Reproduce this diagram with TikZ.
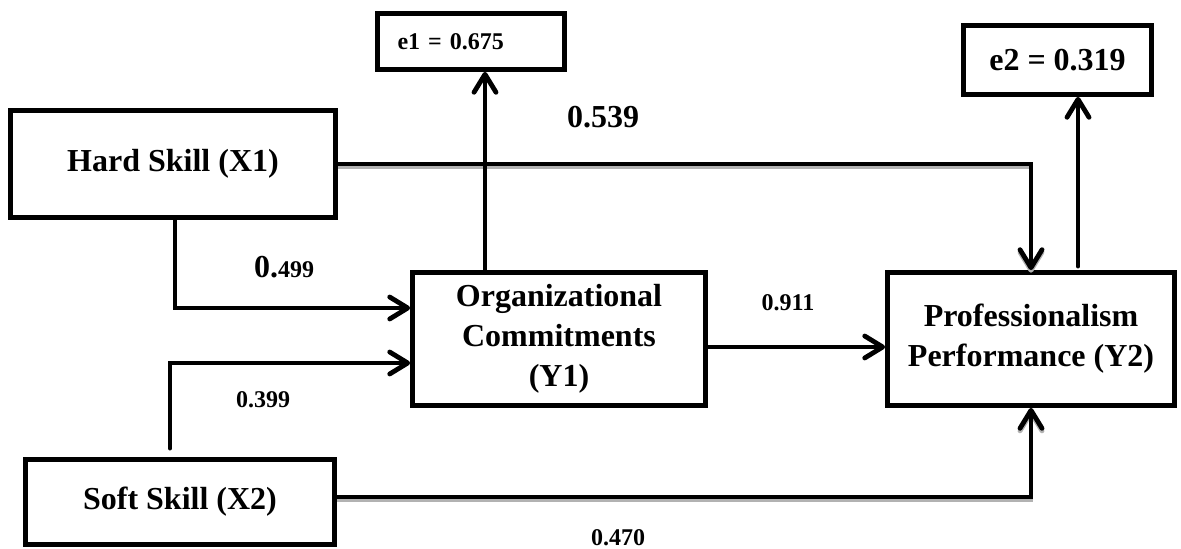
\documentclass[tikz,border=0pt]{standalone}
\usepackage{fontspec}
\setmainfont{Liberation Serif}
\usepackage{tikz}
\usetikzlibrary{arrows.meta}

\tikzset{
    box/.style={draw, line width=2.4pt, inner sep=0pt, align=center,
        font=\bfseries\fontsize{16}{20}\selectfont},
    path/.style={line width=2.4pt, line cap=round, line join=miter,
        -{Straight Barb[length=9pt, width=11pt, line cap=round, line join=round]}},
    shadowed/.style={preaction={draw=black!30, line width=2.4pt,
        transform canvas={yshift=-1.3pt}}},
    big/.style={font=\bfseries\fontsize{16}{20}\selectfont},
    small/.style={font=\bfseries\fontsize{12}{14}\selectfont}
}

\begin{document}
\begin{tikzpicture}[x=0.5pt, y=-0.5pt]
    \useasboundingbox (0,0) rectangle (1181,549);

    % First, locate each of the boxes and name them
    \node [box, minimum width=162.5pt, minimum height=53.5pt] (hard) at (173,164) {Hard Skill (X1)};
    \node [box, minimum width=154.5pt, minimum height=42.5pt] (soft) at (180,502) {Soft Skill (X2)};
    \node [box, minimum width=146.5pt, minimum height=66.5pt] (y1) at (559,339) {Organizational\\Commitments\\(Y1)};
    \node [box, minimum width=143.5pt, minimum height=66.5pt] (y2) at (1031,339) {Professionalism\\Performance (Y2)};
    \node [box, text width=73.5pt, inner xsep=10pt, align=left, minimum height=28pt,
        font=\bfseries\fontsize{12}{14}\selectfont] (e1) at (471,41.5) {e1 = 0.675};
    \node [box, minimum width=94pt, minimum height=34.5pt] (e2) at (1057.5,60) {e2 = 0.319};

    % Now draw the paths:
    \draw [path, shadowed] (hard.east) -| (y2.north);
    \draw [path] ([xshift=1pt]hard.south) |- ([yshift=15.5pt]y1.west);
    \draw [path, shorten <=4.5pt] ([xshift=-5pt]soft.north) |- ([yshift=-12pt]y1.west);
    \draw [path, shadowed] ([yshift=2.5pt]soft.east) -| (y2.south);
    \draw [path] ([yshift=-4pt]y1.east) -- ([yshift=-4pt]y2.west);
    \draw [path] ([xshift=-37pt]y1.north) -- ([xshift=-37pt]y1.north |- e1.south);
    \draw [path, shorten <=2pt] ([xshift=23.5pt]y2.north) -- ([xshift=23.5pt]y2.north |- e2.south);

    % Path coefficients
    \node [big] (c539) at (603,117) {0.539};
    \node [big] (c499) at (284,267) {0.{\fontsize{12}{14}\selectfont 499}};
    \node [small] (c399) at (263,400) {0.399};
    \node [small] (c911) at (788,303) {0.911};
    \node [small] (c470) at (618,538) {0.470};
\end{tikzpicture}
\end{document}
